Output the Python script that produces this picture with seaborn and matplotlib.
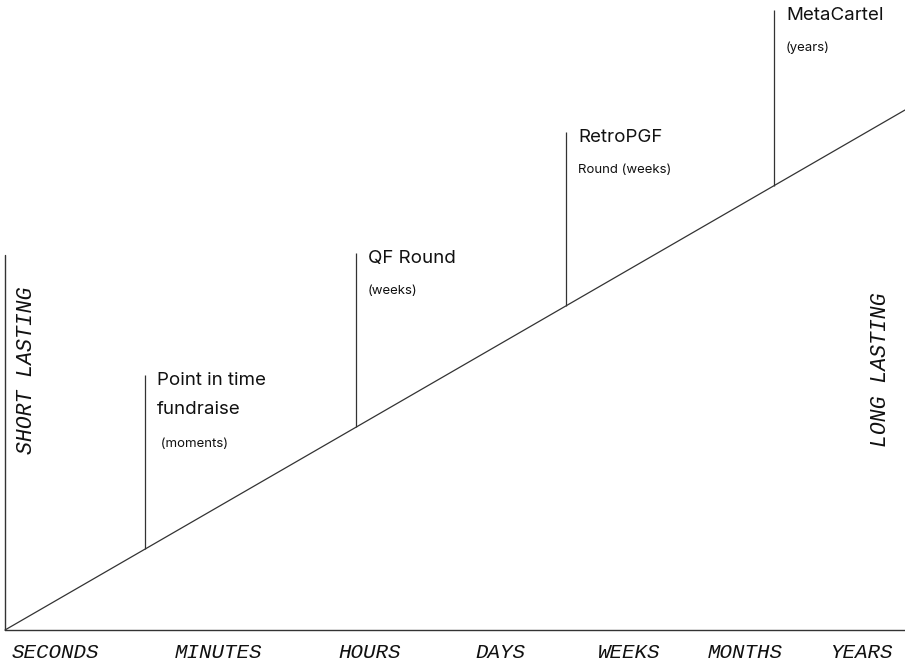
import matplotlib
matplotlib.use("Agg")
import matplotlib.pyplot as plt
import seaborn as sns

# time scale labels along the bottom (left edge of each word, in scale units)
scale_labels = ["SECONDS", "MINUTES", "HOURS", "DAYS", "WEEKS", "MONTHS", "YEARS"]
scale_pos = [0.07, 1.70, 3.33, 4.70, 5.93, 7.03, 8.25]

# the rising "duration" line
trend_x = [0.0, 9.0]
trend_y = [0.0, 5.2]
slope = 5.2 / 9.0

# milestones: position on the scale, top of the stem, title lines, note
ms_names = ["Point in time\nfundraise", "QF Round", "RetroPGF", "MetaCartel"]
ms_notes = [" (moments)", "(weeks)", "Round (weeks)", "(years)"]
ms_x = [1.40, 3.51, 5.61, 7.69]
ms_top = [2.55, 3.77, 4.98, 6.20]

sns.set_theme(style="white")
mono = ["Liberation Mono", "DejaVu Sans Mono"]
sans = ["Inter", "Liberation Sans", "DejaVu Sans"]

fig = plt.figure(figsize=(9.05, 6.61), dpi=100)
ax = fig.add_axes([0, 0, 1, 1])
line_col = "#333333"

sns.lineplot(x=trend_x, y=trend_y, ax=ax, color=line_col, linewidth=0.9)

# axes drawn by hand
ax.plot([0, 9.0], [0, 0], color=line_col, linewidth=1.0)
ax.plot([0, 0], [0, 3.75], color=line_col, linewidth=1.0)

for name, note, x, top in zip(ms_names, ms_notes, ms_x, ms_top):
    ax.vlines(x, slope * x, top, color=line_col, linewidth=0.9)
    n_lines = name.count("\n") + 1
    ax.text(x + 0.12, top + 0.03, name, ha="left", va="top", fontsize=13.5,
            family=sans, color="#111111", linespacing=1.95)
    note_y = top - 0.01 - 0.31 * n_lines
    ax.text(x + 0.12, note_y, note, ha="left", va="top", fontsize=9.5,
            family=sans, color="#111111")

for lab, x in zip(scale_labels, scale_pos):
    ax.text(x, -0.22, lab, ha="left", va="center", fontsize=15,
            family=mono, style="italic", color="#111111")

ax.text(0.22, 2.6, "SHORT LASTING", rotation=90, ha="center", va="center",
        fontsize=15.5, family=mono, style="italic", color="#111111")
ax.text(8.75, 2.6, "LONG LASTING", rotation=90, ha="center", va="center",
        fontsize=15.5, family=mono, style="italic", color="#111111")

ax.set_xlim(-0.05, 9.0)
ax.set_ylim(-0.31, 6.30)
ax.axis("off")

fig.savefig("out.png", dpi=100, facecolor="white")
